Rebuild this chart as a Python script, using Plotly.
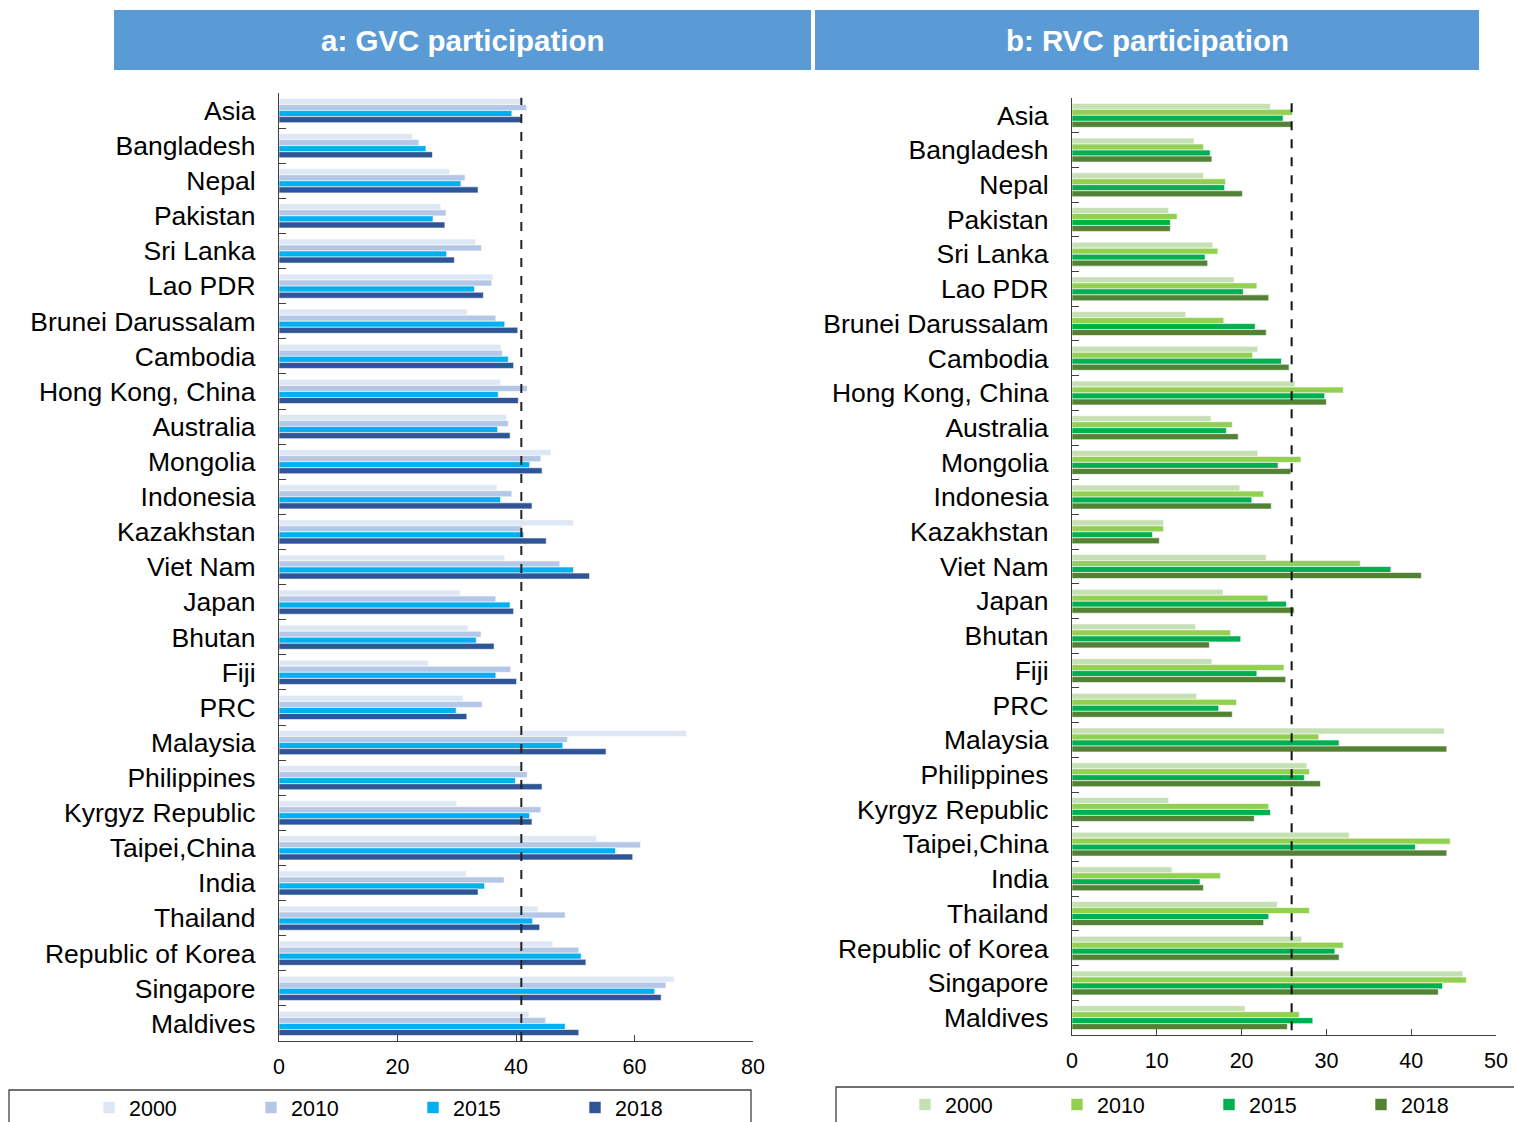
import plotly.graph_objects as go

W, H = 1514, 1122

categories = ["Asia", "Bangladesh", "Nepal", "Pakistan", "Sri Lanka", "Lao PDR",
              "Brunei Darussalam", "Cambodia", "Hong Kong, China", "Australia",
              "Mongolia", "Indonesia", "Kazakhstan", "Viet Nam", "Japan", "Bhutan",
              "Fiji", "PRC", "Malaysia", "Philippines", "Kyrgyz Republic",
              "Taipei,China", "India", "Thailand", "Republic of Korea", "Singapore",
              "Maldives"]
years = ["2000", "2010", "2015", "2018"]

gvc_2000 = [40.8, 22.5, 28.8, 27.3, 33.2, 36.1, 31.8, 37.5, 37.4, 38.4, 45.9, 36.8, 49.7, 38.1,
            30.6, 31.9, 25.2, 31.1, 68.8, 40.9, 30.0, 53.6, 31.6, 43.7, 46.2, 66.7, 42.2]
gvc_2010 = [41.8, 23.6, 31.4, 28.2, 34.2, 35.9, 36.6, 37.7, 41.9, 38.7, 44.2, 39.3, 41.1, 47.4,
            36.6, 34.1, 39.1, 34.3, 48.7, 41.9, 44.2, 61.0, 38.0, 48.3, 50.6, 65.3, 45.0]
gvc_2015 = [39.3, 24.8, 30.7, 26.0, 28.3, 33.0, 38.1, 38.7, 37.0, 36.9, 42.3, 37.4, 41.3, 49.7,
            39.0, 33.3, 36.6, 29.9, 47.9, 39.9, 42.3, 56.8, 34.7, 42.8, 51.0, 63.4, 48.3]
gvc_2018 = [40.9, 25.9, 33.6, 28.0, 29.6, 34.5, 40.3, 39.6, 40.4, 39.0, 44.4, 42.7, 45.1, 52.4,
            39.6, 36.3, 40.1, 31.7, 55.2, 44.4, 42.7, 59.7, 33.6, 44.0, 51.8, 64.5, 50.6]

rvc_2000 = [23.4, 14.4, 15.5, 11.4, 16.6, 19.1, 13.4, 21.9, 26.3, 16.4, 21.9, 19.8, 10.8, 22.9,
            17.8, 14.6, 16.5, 14.7, 43.9, 27.7, 11.4, 32.7, 11.8, 24.2, 27.1, 46.1, 20.4]
rvc_2010 = [26.0, 15.5, 18.1, 12.4, 17.2, 21.8, 17.9, 21.3, 32.0, 18.9, 27.0, 22.6, 10.8, 34.0,
            23.1, 18.7, 25.0, 19.4, 29.1, 28.0, 23.2, 44.6, 17.5, 28.0, 32.0, 46.5, 26.8]
rvc_2015 = [24.9, 16.3, 18.0, 11.6, 15.7, 20.2, 21.6, 24.7, 29.8, 18.2, 24.3, 21.2, 9.5, 37.6,
            25.3, 19.9, 21.8, 17.3, 31.5, 27.4, 23.4, 40.5, 15.1, 23.2, 31.0, 43.7, 28.4]
rvc_2018 = [25.9, 16.5, 20.1, 11.6, 16.0, 23.2, 22.9, 25.6, 30.0, 19.6, 25.8, 23.5, 10.3, 41.2,
            26.2, 16.2, 25.2, 18.9, 44.2, 29.3, 21.5, 44.2, 15.5, 22.6, 31.5, 43.2, 25.4]

gvc_colors = ["#DEE8F5", "#B4C7E7", "#00B0F0", "#2F5597"]
rvc_colors = ["#C5E0B4", "#92D050", "#00B050", "#548235"]

FONT = "Liberation Sans, Arial, sans-serif"
AXC = "#404040"


def px_x(p):
    return p / W


def px_y(p):
    return 1 - p / H


fig = go.Figure()
for name, vals, col in zip(years, [gvc_2000, gvc_2010, gvc_2015, gvc_2018], gvc_colors):
    fig.add_trace(go.Bar(y=categories, x=vals, orientation="h", name=name,
                         marker=dict(color=col, line=dict(color="white", width=0.6)),
                         xaxis="x", yaxis="y", legend="legend"))
for name, vals, col in zip(years, [rvc_2000, rvc_2010, rvc_2015, rvc_2018], rvc_colors):
    fig.add_trace(go.Bar(y=categories, x=vals, orientation="h", name=name,
                         marker=dict(color=col, line=dict(color="white", width=0.6)),
                         xaxis="x2", yaxis="y2", legend="legend2"))

xcommon = dict(showline=True, linecolor=AXC, linewidth=1.3, ticks="inside", ticklen=6,
               tickcolor=AXC, tickwidth=1.3, showgrid=False, zeroline=False,
               tickfont=dict(size=21.5, color="#000"), ticklabelstandoff=6, fixedrange=True)
ycommon = dict(type="category", range=[len(categories) - 0.5, -0.5], showline=True,
               linecolor=AXC, linewidth=1.3, ticks="inside", tickson="boundaries",
               ticklen=7, tickcolor=AXC, tickwidth=1.3, showgrid=False, zeroline=False,
               tickfont=dict(size=26.5, color="#000"), ticklabelstandoff=17, fixedrange=True)

shapes = [
    # header bars
    dict(type="rect", xref="paper", yref="paper", x0=px_x(114), x1=px_x(811),
         y0=px_y(70), y1=px_y(10), fillcolor="#5B9BD5", line=dict(width=0), layer="below"),
    dict(type="rect", xref="paper", yref="paper", x0=px_x(815), x1=px_x(1479),
         y0=px_y(70), y1=px_y(10), fillcolor="#5B9BD5", line=dict(width=0), layer="below"),
    # Asia average reference lines
    dict(type="line", xref="x", yref="y domain", x0=gvc_2018[0], x1=gvc_2018[0], y0=0, y1=0.995,
         line=dict(color="#222", width=2, dash="dash")),
    dict(type="line", xref="x2", yref="y2 domain", x0=rvc_2018[0], x1=rvc_2018[0], y0=0.005, y1=0.995,
         line=dict(color="#111", width=2, dash="dash")),
    # legend frames
    dict(type="rect", xref="paper", yref="paper", x0=px_x(9), x1=px_x(751),
         y0=px_y(1135), y1=px_y(1090), line=dict(color=AXC, width=1.3), fillcolor="rgba(0,0,0,0)"),
    dict(type="rect", xref="paper", yref="paper", x0=px_x(836), x1=px_x(1525),
         y0=px_y(1135), y1=px_y(1087), line=dict(color=AXC, width=1.3), fillcolor="rgba(0,0,0,0)"),
]

annotations = [
    dict(text="<b>a: GVC participation</b>", xref="paper", yref="paper",
         x=px_x(462.5), y=px_y(41), xanchor="center", yanchor="middle", showarrow=False,
         font=dict(size=29.5, color="white", family=FONT)),
    dict(text="<b>b: RVC participation</b>", xref="paper", yref="paper",
         x=px_x(1147), y=px_y(41), xanchor="center", yanchor="middle", showarrow=False,
         font=dict(size=29.5, color="white", family=FONT)),
]

fig.update_layout(
    width=W, height=H, margin=dict(l=0, r=0, t=0, b=0, autoexpand=False),
    paper_bgcolor="white", plot_bgcolor="white",
    font=dict(family=FONT, color="#000"),
    barmode="group", bargap=0.31, bargroupgap=0,
    xaxis=dict(domain=[px_x(279), px_x(753)], anchor="y", range=[0, 80], dtick=20, **xcommon),
    yaxis=dict(domain=[px_y(1041), px_y(93)], anchor="x", **ycommon),
    xaxis2=dict(domain=[px_x(1072), px_x(1496)], anchor="y2", range=[0, 50], dtick=10, **xcommon),
    yaxis2=dict(domain=[px_y(1035), px_y(98)], anchor="x2", **ycommon),
    shapes=shapes,
    annotations=annotations,
    legend=dict(orientation="h", x=px_x(89), y=px_y(1087), xanchor="left", yanchor="top",
                entrywidth=117, entrywidthmode="pixels", traceorder="normal",
                font=dict(size=21.5, color="#000"), bgcolor="rgba(0,0,0,0)", itemclick=False),
    legend2=dict(orientation="h", x=px_x(905), y=px_y(1084), xanchor="left", yanchor="top",
                 entrywidth=107, entrywidthmode="pixels", traceorder="normal",
                 font=dict(size=21.5, color="#000"), bgcolor="rgba(0,0,0,0)", itemclick=False),
    showlegend=True,
)

fig.write_html("out.html", config={"displayModeBar": False})
